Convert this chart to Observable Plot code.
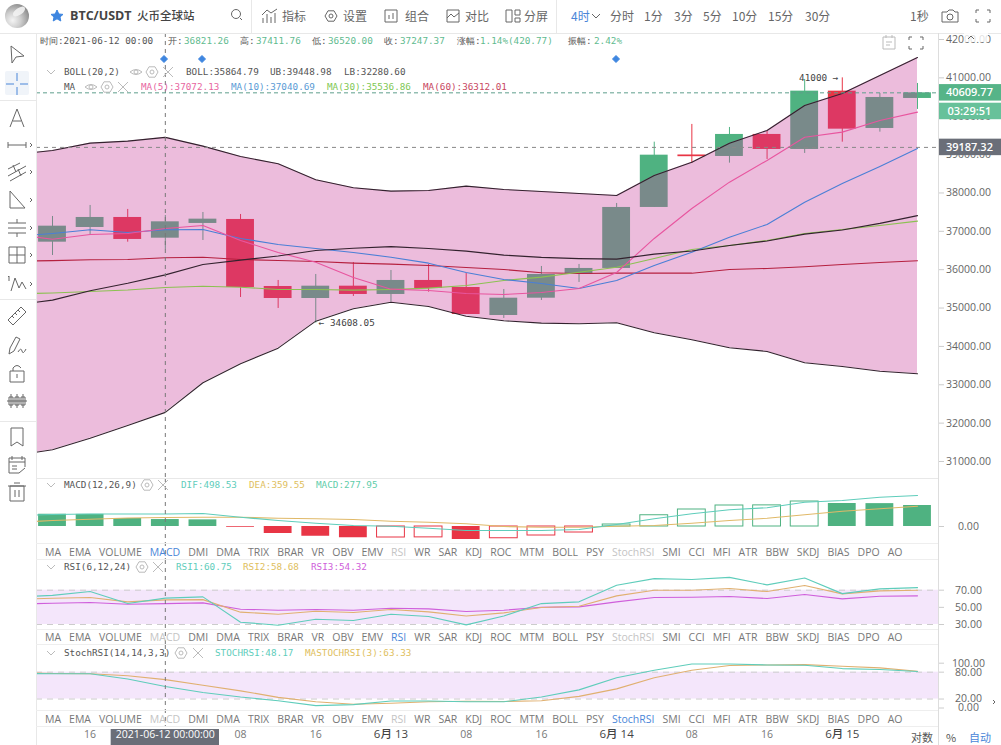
<!DOCTYPE html>
<html>
<head>
<meta charset="utf-8">
<script src="https://cdn.jsdelivr.net/npm/d3@7"></script>
<script src="https://cdn.jsdelivr.net/npm/@observablehq/plot@0.6"></script>
<style>
html, body { margin: 0; padding: 0; background: #fff; }
#page { position: relative; width: 1001px; height: 745px; overflow: hidden; font-family: "Open Sans", "Noto Sans CJK SC", sans-serif; color: #555; }
.t { position: absolute; white-space: nowrap; transform: translateY(-50%); line-height: 1; }
.m { font-family: "DejaVu Sans Mono", monospace; font-size: 9.3px; color: #555; }
.z { font-family: "Noto Sans CJK SC", sans-serif; font-size: 12px; color: #666; }
.strip { position: absolute; left: 36px; width: 902px; box-sizing: border-box; padding-left: 9px; display: flex; gap: 8px; align-items: center; font-size: 10.5px; color: #777; border-top: 1px solid #eee; border-bottom: 1px solid #eee; }
.hl { position: absolute; background: #e8e8e8; }
</style>
</head>
<body>
<div id="page"></div>
<script>
// candles
const idx = [0,1,2,3,4,5,6,7,8,9,10,11,12,13,14,15,16,17,18,19,20,21,22,23];
const open_ = [36717,37100,37361,36821.26,37205,37309,35562,35249,35570,35354,35719,35536,34806,35257,35883,36032,37622,38990,38951,39525,39134,40654,39681,40463];
const high_ = [37387,37674,37570,37411.76,37491,37439,35719,35875,36188,35979,36136,35901,35484,36084,36136,37726,39324,39786,39707,39603,40959,41000,40594,40854];
const low_ = [36370,36918,36717,36520,36761,35275,34989,34608.05,35302,35153,35414,34832,34728,35197,35667,36032,37622,38769,38777,38873,39030,39324,39585,40177];
const close_ = [37134,37361,36788,37247.37,37317,35536,35249,35570,35354,35719,35510,34832,35257,35875,36032,37622,38985,38945,39525,39134,40654,39663,40489,40609.77];

// line series start one candle before the first one, they get cut by the pane edge
const lineIdx = [-1,0,1,2,3,4,5,6,7,8,9,10,11,12,13,14,15,16,17,18,19,20,21,22,23];
const ub = [39003,39108,39298,39350,39449,39220,38951,38761,38344,38135,38047,38065,38177,38091,38039,37987,37935,38456,38803,39298,39629,40281,40594,41063,41532];
const lb = [31156,31305,31607,31939,32281,33052,33547,33954,34658,34981,35153,35041,34788,34668,34606,34590,34616,34355,34173,33964,33868,33573,33477,33354,33286];
const boll = [35080,35206,35452,35645,35865,36136,36249,36357,36501,36558,36600,36553,36483,36380,36322,36288,36275,36405,36488,36631,36748,36927,37035,37208,37409];
const ma5 = [36918,36795,36918,36944,37072,37153,36762,36449,36196,35797,35492,35458,35380,35354,35406,35510,35927,36814,37596,38281,38847,39454,39585,39890,40106];
const ma10 = [36866,36944,37040,36970,37041,37048,36814,36657,36553,36449,36326,36170,35927,35745,35640,35510,35719,36110,36456,36847,37179,37760,38247,38691,39160];
const ma30 = [35367,35393,35432,35471,35537,35570,35544,35484,35484,35466,35484,35518,35588,35719,35805,35935,36065,36292,36527,36631,36761,36944,37048,37153,37265];
const ma60 = [36222,36235,36258,36266,36312,36325,36266,36240,36214,36170,36144,36110,36058,36005,35919,35901,35909,35909,35909,36005,36032,36076,36136,36188,36232];
const priceTicks = [31000,32000,33000,34000,35000,36000,37000,38000,39000,40000,41000,42000];
const tagValues = [40609.77,40124,39187.32];
const tagTexts = ["40609.77","03:29:51","39187.32"];
const tagColors = ["#56b488","#67c19a","#6a6e78"];

// MACD
const macdHist = [490,485,320,278,265,-30,-280,-390,-450,-440,-435,-520,-470,-360,-240,80,450,680,840,845,1000,920,915,840];
const dif = [440,480,500,500,498.5,520,370,240,130,40,10,-70,-160,-160,-160,-120,80,310,510,670,750,970,1040,1170,1240];
const dea = [160,240,290,340,359.5,370,370,330,310,280,210,170,110,0,-30,-30,10,40,130,240,330,470,610,710,810];

// RSI
const rsi1 = [62,64,68.4,54.4,60.75,62.2,32.7,29.2,36.2,34.7,42,39.3,29.6,40,54.4,56.4,75.8,83.5,82.4,85,76.2,84.3,66,71.5,73];
const rsi2 = [59,60.7,61.4,56.4,58.68,59,44.4,42,45.5,44,47.5,44.7,40,43.6,49.8,51.3,63.4,70,70,71.9,68.4,75.4,65.7,69.2,70];
const rsi3 = [53.8,54.8,55.6,53.7,54.32,55.2,47.8,46.7,47.5,46.7,49,48.2,45.1,46.7,50.2,50.6,56.4,61.4,61.8,62.6,60.3,65,59.9,63,63.4];

// StochRSI
const stochK = [77,76.4,76.4,64.7,48.17,34.6,24.4,16.3,5.4,7.6,15.6,15.6,14.1,14,24.4,40.5,67.6,84.4,98.3,98.3,96,95.4,88,85.9,81.5];
const stochD = [79,77,76.4,72,63.33,50.7,38.3,23.7,14.1,8.3,10.5,14.1,14.9,14.5,16.3,25.9,42.7,67.6,84.4,94.7,96,96.9,93.2,89.5,82.2];

// time axis
const hourTicks = [1,5,7,11,13,17,19];
const hourLabels = ["16","08","16","08","16","08","16"];
const dayTicks = [9,15,21];
const dayLabels = ["6月 13","6月 14","6月 15"];
const crossTick = 3;
const crossLabel = "2021-06-12 00:00:00";

const indicators = ["MA","EMA","VOLUME","MACD","DMI","DMA","TRIX","BRAR","VR","OBV","EMV","RSI","WR","SAR","KDJ","ROC","MTM","BOLL","PSY","StochRSI","SMI","CCI","MFI","ATR","BBW","SKDJ","BIAS","DPO","AO"];

const green = "#4fb281", red = "#e83545";
const sans = "'Open Sans','Noto Sans CJK SC',sans-serif";
const mono = "'DejaVu Sans Mono',monospace";
const page = document.getElementById("page");

const candles = idx.map((i, k) => ({i, o: open_[k], h: high_[k], l: low_[k], c: close_[k]}));
const bars = idx.map((i, k) => ({i, v: macdHist[k], hollow: k > 0 && macdHist[k] > macdHist[k - 1]}));
const tags = tagValues.map((v, k) => ({v, text: tagTexts[k], color: tagColors[k]}));

const halfBody = 0.37;
function line(values, stroke, strokeWidth = 1.1) {
	return Plot.line(values, {x: lineIdx, y: values, stroke, strokeWidth, clip: true});
}
function crossRule() {
	return Plot.ruleX([crossTick], {stroke: "#777", strokeDasharray: "4,4", strokeWidth: 1});
}
function rightAxis(ticks, dec = 2) {
	return Plot.axisY({
		anchor: "right", ticks, tickFormat: d => d.toFixed(dec), tickSize: 5, tickPadding: 25,
		textAnchor: "middle", stroke: "#ccc", fill: "#666", fontSize: 10.5, label: null
	});
}
function pane(top, height, y, marks, marginBottom = 0) {
	const svg = Plot.plot({
		width: 1001, height,
		marginLeft: 36, marginRight: 63, marginTop: 0, marginBottom,
		x: {type: "linear", domain: [0, 23], range: [52, 917], axis: null},
		y: {...y, axis: null},
		style: {background: "transparent", fontFamily: sans, fontSize: "10.5px"},
		marks
	});
	svg.style.position = "absolute";
	svg.style.left = "0px";
	svg.style.top = top + "px";
	page.appendChild(svg);
}

//  ---------------------------------- PRICE ------------------------------
const ups = candles.filter(d => d.c >= d.o);
const downs = candles.filter(d => d.c < d.o);
function candleMarks(data, color) {
	return [
		Plot.ruleX(data, {x: "i", y1: "l", y2: "h", stroke: color, strokeWidth: 1}),
		Plot.rect(data, {x1: d => d.i - halfBody, x2: d => d.i + halfBody, y1: "o", y2: "c", fill: color})
	];
}
pane(33, 445, {type: "linear", domain: [31000, 42000], range: [428, 6]}, [
	rightAxis(priceTicks),
	candleMarks(ups, green),
	candleMarks(downs, red),
	Plot.areaY(ub, {x: lineIdx, y1: lb, y2: ub, fill: "#c8409b", fillOpacity: 0.35, clip: true}),
	line(ma60, "#b5203f"),
	line(ma30, "#8cc152"),
	line(ma10, "#4a7fd6"),
	line(ma5, "#e8559f"),
	line(ub, "#33222e"),
	line(lb, "#33222e"),
	line(boll, "#33222e"),
	crossRule(),
	Plot.ruleY([tagValues[0]], {stroke: "#5f9f8c", strokeDasharray: "4,3", strokeWidth: 1}),
	Plot.ruleY([tagValues[2]], {stroke: "#888", strokeDasharray: "4,4", strokeWidth: 1}),
	Plot.text(["41000 →"], {x: [21], y: [41000], text: d => d, textAnchor: "end", dx: -4, fontFamily: mono, fontSize: 9.3, fill: "#444"}),
	Plot.text(["← 34608.05"], {x: [7], y: [34608.05], text: d => d, textAnchor: "start", dx: 3, fontFamily: mono, fontSize: 9.3, fill: "#444"}),
	Plot.rect(tags, {x1: 23.56, x2: 25.3, y1: d => d.v - 215, y2: d => d.v + 215, fill: d => d.color}),
	Plot.text(tags, {x: 24.38, y: "v", text: "text", fill: "#fff", fontSize: 11, fontWeight: 600})
]);

//  ---------------------------------- MACD ------------------------------
const solid = bars.filter(d => !d.hollow);
const hollow = bars.filter(d => d.hollow);
pane(478, 82, {type: "linear", domain: [0, 1000], range: [48, 23]}, [
	rightAxis([0]),
	Plot.rect(solid, {x1: d => d.i - halfBody, x2: d => d.i + halfBody, y1: 0, y2: "v", fill: d => d.v >= 0 ? green : red}),
	Plot.rect(hollow, {x1: d => d.i - halfBody, x2: d => d.i + halfBody, y1: 0, y2: "v", fill: "#fff", stroke: d => d.v >= 0 ? green : red, strokeWidth: 1}),
	line(dea, "#e0b968"),
	line(dif, "#5fcdbb"),
	crossRule()
]);

//  ---------------------------------- RSI ------------------------------
pane(560, 85, {type: "linear", domain: [30, 70], range: [64, 29.7]}, [
	Plot.rect([0], {y1: 30, y2: 70, fill: "#f4e6fb"}),
	Plot.ruleY([30, 70], {stroke: "#ccc", strokeDasharray: "6,5", strokeWidth: 1}),
	rightAxis([30, 50, 70]),
	line(rsi3, "#cf5fdb"),
	line(rsi2, "#e0b070"),
	line(rsi1, "#5fcdbb"),
	crossRule()
]);

//  ---------------------------------- STOCH RSI + TIME AXIS ------------------------------
pane(645, 100, {type: "linear", domain: [0, 100], range: [62.5, 17.7]}, [
	Plot.rect([0], {y1: 20, y2: 80, fill: "#f4e6fb"}),
	Plot.ruleY([20, 80], {stroke: "#ccc", strokeDasharray: "6,5", strokeWidth: 1}),
	rightAxis([0, 20, 80, 100]),
	line(stochD, "#e0b070"),
	line(stochK, "#5fcdbb"),
	crossRule(),
	Plot.text(hourLabels, {x: hourTicks, text: d => d, frameAnchor: "bottom", dy: 10, fill: "#777", fontSize: 10.5}),
	Plot.text(dayLabels, {x: dayTicks, text: d => d, frameAnchor: "bottom", dy: 10, fill: "#444", fontSize: 11.5, fontWeight: 500}),
	Plot.rect([crossTick], {x1: d => d - 1.44, x2: d => d + 1.44, y1: -48, y2: -84, fill: "#6a6e78"}),
	Plot.text([crossLabel], {x: [crossTick], text: d => d, frameAnchor: "bottom", dy: 10, fill: "#fff", fontSize: 10.5})
], 18);

//  ---------------------------------- PAGE CHROME ------------------------------
function put(html) {
	page.insertAdjacentHTML("beforeend", html);
}
function txt(x, y, s, cls, color) {
	put(`<span class="t ${cls}" style="left:${x}px;top:${y}px;${color ? "color:" + color : ""}">${s}</span>`);
}
function hl(x, y, w, h, c = "#e8e8e8") {
	put(`<div class="hl" style="left:${x}px;top:${y}px;width:${w}px;height:${h}px;background:${c}"></div>`);
}

// lines between panes
hl(0, 33, 1001, 1);
hl(36, 33, 1, 712);
hl(938, 33, 1, 712, "#ddd");
hl(36, 478, 902, 1);
hl(0, 100, 36, 1);
hl(0, 299, 36, 1);
hl(0, 421, 36, 1);
hl(251, 0, 1, 33);
hl(556, 0, 1, 33);

// indicator strips
[[543, "MACD", ["RSI", "StochRSI"]], [629, "RSI", ["MACD", "StochRSI"]], [710, "StochRSI", ["MACD", "RSI"]]].forEach(([top, active, faint]) => {
	const items = indicators.map(n => {
		const c = n === active ? "#4a86d8" : faint.includes(n) ? "#c4c4c4" : "#777";
		return `<span style="color:${c}">${n}</span>`;
	}).join("");
	put(`<div class="strip" style="top:${top}px;height:${top === 543 ? 17 : top === 629 ? 16 : 17}px">${items}</div>`);
});

// toolbar texts
txt(70, 16, "BTC/USDT", "", "#444;font-size:12.5px;font-weight:700");
txt(137, 16, "火币全球站", "z", "#444;font-size:11.5px;font-weight:500");
[[282, "指标"], [343, "设置"], [405, "组合"], [465, "对比"], [524, "分屏"], [610, "分时"], [644, "1分"], [674, "3分"], [703, "5分"], [732, "10分"], [768, "15分"], [805, "30分"], [910, "1秒"]].forEach(([x, s]) => txt(x, 16, s, "z"));
txt(571, 16, "4时", "z", "#4a86d8");

// header rows
txt(40, 41, "时间:2021-06-12 00:00", "m");
[[168, "开:", 184, "36821.26"], [240, "高:", 256, "37411.76"], [312, "低:", 328, "36520.00"], [384, "收:", 400, "37247.37"], [457, "涨幅:", 480, "1.14%(420.77)"], [568, "振幅:", 594, "2.42%"]].forEach(([x1, a, x2, b]) => {
	txt(x1, 41, a, "m");
	txt(x2, 41, b, "m", "#5fbb8f");
});
txt(64, 72, "BOLL(20,2)", "m");
txt(186, 72, "BOLL:35864.79", "m");
txt(270, 72, "UB:39448.98", "m");
txt(344, 72, "LB:32280.60", "m");
txt(64, 87, "MA", "m");
txt(141, 87, "MA(5):37072.13", "m", "#e8669f");
txt(231, 87, "MA(10):37040.69", "m", "#5b9bd5");
txt(327, 87, "MA(30):35536.86", "m", "#7fc855");
txt(423, 87, "MA(60):36312.01", "m", "#c8475f");
txt(64, 485, "MACD(12,26,9)", "m");
txt(181, 485, "DIF:498.53", "m", "#5fcdbb");
txt(249, 485, "DEA:359.55", "m", "#e0c060");
txt(316, 485, "MACD:277.95", "m", "#5fcdaa");
txt(64, 567, "RSI(6,12,24)", "m");
txt(176, 567, "RSI1:60.75", "m", "#5fcdbb");
txt(243, 567, "RSI2:58.68", "m", "#e0c060");
txt(311, 567, "RSI3:54.32", "m", "#cf5fdb");
txt(64, 653, "StochRSI(14,14,3,3)", "m");
txt(215, 653, "STOCHRSI:48.17", "m", "#5fcdbb");
txt(305, 653, "MASTOCHRSI(3):63.33", "m", "#e0c060");

// bottom right buttons
txt(911, 737, "对数", "z", "#555;font-size:11px");
txt(946, 737, "%", "z", "#555;font-size:11px");
txt(969, 737, "自动", "z", "#4a86d8;font-size:11px");

// icons
const glyph = {
	eye: '<path d="M-6 0Q0-5 6 0Q0 5-6 0Z"/><circle r="2"/>',
	gear: '<path d="M-3-5.2H3L6 0 3 5.2H-3L-6 0Z"/><circle r="2"/>',
	close: '<path d="M-5-5 5 5M5-5-5 5"/>',
	chev: '<path d="M-4-2 0 2 4-2"/>',
	more: '<path d="M-1-2 1 0-1 2"/>',
	cursor: '<path d="M-6-9 7 1-1 2-5 8Z"/>',
	cross: '<path stroke="#4a86d8" d="M-11 0H-3M3 0H11M0-11V-3M0 3V11"/>',
	a: '<path d="M-7 9 0-9 7 9M-4 3H4"/>',
	seg: '<path d="M-9 0H9M-9-3V3M9-3V3"/>',
	fib: '<path d="M-9 4 9-6M-7 9 9 0M-9-3 3-9M-4-7-1 0M1-3 4 4"/>',
	tri: '<path d="M-7-9V8H8Z"/>',
	lines: '<path d="M-9-5H9M-9 0H9M-9 5H9M0-9V-5M0 5V9"/>',
	box: '<path d="M-8-8H8V8H-8ZM-8 0H8M0-8V8"/>',
	wave: '<path d="M-6 7-2-6 2 4 5-2 9 5M-9-7-8-8V-3"/>',
	ruler: '<path d="M-9 4 4-9 9-4-4 9ZM-5 0-3 2M-2-3 0-1M1-6 3-4"/>',
	pen: '<path d="M-8 8-7 2-1-9 3-7-3 5ZM1 6Q4 1 5 5T9 3"/>',
	lock: '<path d="M-7-2H7V9H-7ZM-4-2V-5Q0-10 4-5M0 1V5"/>',
	candles: '<path d="M-10 0H10M-6-7V7M0-7V7M6-7V7M-8-4H-4V4H-8ZM-2-4H2V4H-2ZM4-4H8V4H4Z"/>',
	book: '<path d="M-6-9H6V9L0 5-6 9Z"/>',
	cal: '<path d="M-8-7H8V2M-8-7V8H2M-8-3H8M-5-5V-9M5-5V-9M-5 1H0M-5 4H0M2 8 8 3"/>',
	trash: '<path d="M-7-6H7V9H-7ZM-9-6H9M-3-9H3M-2-2V5M2-2V5"/>',
	search: '<circle r="4.5" cy="-1" cx="-1"/><path d="M3 3 5 5"/>',
	ind: '<path d="M-7 7V2M-3 7V-2M1 7V1M5 7V-3M-8-1-3-6 1-3 7-7"/>',
	combo: '<path d="M-6-6H6V6H-6ZM-2-1V3M2-3V3"/>',
	compare: '<path d="M-6-6H6V6H-6ZM-6 2-2-2 1 1 6-3"/>',
	split: '<path d="M-7-6H-1V6H-7ZM2-6H7V-1H2ZM2 2H7V6H2Z"/>',
	camera: '<path d="M-8-4H-3L-1-6H3L5-4H8V6H-8Z"/><circle r="3" cy="1"/>',
	full: '<path d="M-7-3V-6H-4M4-6H7V-3M-7 3V6H-4M4 6H7V3"/>',
	note: '<path d="M-6-6H6V6H-6ZM-3-8V-5M3-8V-5M-3-1H3M-3 2H1"/>',
	tab: '<path d="M-1-2 1 0-1 2"/>',
	caret: '<path d="M-3 1 0-2 3 1"/>',
	diamond: '<path fill="#3e86e0" stroke="#3e86e0" d="M0-3.5 3.5 0 0 3.5-3.5 0Z"/>',
	star: '<path fill="#3e86e0" stroke="#3e86e0" d="M0-6 1.8-2 6-1.6 3 1 3.8 5 0 2.8-3.8 5-3 1-6-1.6-1.8-2Z"/>'
};
const iconList = [
	["cursor",17,55],["cross",17,84],["a",17,118],["seg",17,145],["fib",17,172],["tri",17,200],["lines",17,228],["box",17,255],["wave",17,284],
	["ruler",17,316],["pen",17,346],["lock",17,373],["candles",17,401],["book",17,437],["cal",17,465],["trash",17,492],
	["more",31,145],["more",31,172],["more",31,200],["more",31,228],["more",31,255],["more",31,284],
	["search",237,15],["ind",270,16],["gear",331,16],["combo",391,16],["compare",453,16],["split",513,16],["chev",596,16],["camera",950,16],["full",983,16],
	["star",57,16],["note",889,43],["full",916,43],
	["diamond",164,59],["diamond",202,59],["diamond",616,59],
	["chev",51,72],["eye",136,72],["gear",152,72],["close",168,72],
	["eye",91,87],["gear",107,87],["close",123,87],
	["chev",51,485],["gear",147,485],["close",163,485],
	["chev",51,567],["gear",142,567],["close",158,567],
	["chev",51,653],["gear",181,653],["close",198,653],
	["tab",994,702]
];
const dim = new Set(["eye","gear","close","note","chev"]);
put(`<div style="position:absolute;left:5px;top:71px;width:24px;height:24px;background:#f0f4f9;border-radius:2px"></div>`);
put(`<div style="position:absolute;left:964px;top:33px;width:24px;height:9px;background:#fff;opacity:.8"></div>`);
const iconSvg = iconList.map(([g, x, y]) => {
	const faded = x > 40 && y > 35 && dim.has(g);
	return `<g transform="translate(${x},${y})" stroke="${faded ? "#bbb" : "#666"}">${glyph[g]}</g>`;
}).join("");
put(`<svg width="1001" height="745" style="position:absolute;left:0;top:0;pointer-events:none" fill="none" stroke-width="1"><g transform="translate(971,38)" stroke="#666">${glyph.caret}</g>${iconSvg}</svg>`);

// logo
put(`<div style="position:absolute;left:5px;top:4px;width:24px;height:24px;border-radius:50%;background:radial-gradient(circle at 32% 68%,#f4f4f4 0,#cfcfcf 35%,#8f8f8f 75%,#b5b5b5 100%)"></div>`);
put(`<div style="position:absolute;left:12px;top:8px;width:14px;height:7px;border-radius:50%;background:#f2f2f2;transform:rotate(-35deg);opacity:.9"></div>`);
</script>
</body>
</html>
